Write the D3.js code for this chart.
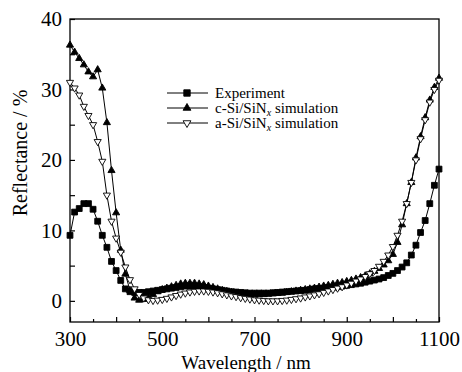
<!DOCTYPE html>
<html>
<head>
<meta charset="utf-8">
<script src="https://cdn.jsdelivr.net/npm/d3@7"></script>
<style>
  body { margin: 0; background: #fff; }
  text { font-family: "Liberation Serif", "Times New Roman", serif; fill: #000; }
</style>
</head>
<body>
<svg id="chart"></svg>
<script>
// wavelength (nm)
const wavelengths = [300,310,320,330,340,350,360,370,380,390,400,410,420,430,440,450,460,470,480,490,
  500,510,520,530,540,550,560,570,580,590,600,610,620,630,640,650,660,670,680,690,
  700,710,720,730,740,750,760,770,780,790,800,810,820,830,840,850,860,870,880,890,
  900,910,920,930,940,950,960,970,980,990,1000,1010,1020,1030,1040,1050,1060,1070,1080,1090,1100];

// reflectance (%)
const experiment = [9.3,12.6,13.1,13.8,13.8,13.0,11.3,9.3,7.6,5.6,4.3,2.9,1.7,1.3,1.2,1.2,1.2,1.3,1.4,1.5,
  1.6,1.7,1.8,1.9,2.0,2.1,2.1,2.1,2.0,1.9,1.8,1.7,1.6,1.5,1.4,1.3,1.25,1.2,1.15,1.1,
  1.1,1.1,1.1,1.1,1.15,1.2,1.25,1.3,1.35,1.4,1.45,1.5,1.6,1.7,1.75,1.8,1.9,1.95,2.0,2.1,
  2.2,2.3,2.4,2.5,2.65,2.8,2.95,3.1,3.3,3.6,3.9,4.3,4.8,5.4,6.5,7.9,9.7,11.4,13.8,16.4,18.7];

const cSiSim = [36.3,35.3,34.4,33.5,32.5,31.8,32.8,30.2,25.3,18.5,12.5,7.2,3.8,1.5,0.4,0.1,0.2,0.5,0.9,1.3,
  1.6,1.8,2.0,2.2,2.4,2.5,2.5,2.5,2.4,2.3,2.1,1.9,1.7,1.5,1.35,1.2,1.1,1.0,0.95,0.9,
  0.9,0.9,0.9,0.95,1.0,1.05,1.1,1.2,1.3,1.4,1.5,1.6,1.7,1.8,1.95,2.1,2.2,2.35,2.5,2.6,
  2.75,2.9,3.1,3.3,3.55,3.85,4.2,4.6,5.1,5.7,6.6,8.3,10.8,13.8,16.8,20.3,23.3,26.0,28.5,30.3,31.6];

const aSiSim = [31.0,30.2,29.2,27.6,26.3,25.0,22.6,19.8,15.0,11.3,8.9,6.9,4.8,3.0,1.7,0.9,0.4,0.15,0.05,0.1,
  0.2,0.35,0.55,0.75,0.95,1.1,1.25,1.35,1.4,1.4,1.35,1.25,1.15,1.0,0.85,0.7,0.6,0.45,0.35,0.25,
  0.15,0.1,0.05,0.0,0.0,0.0,0.05,0.1,0.2,0.3,0.4,0.55,0.7,0.85,1.0,1.2,1.4,1.6,1.8,2.0,
  2.25,2.5,2.8,3.1,3.45,3.85,4.3,4.9,5.6,6.5,7.7,9.3,11.3,13.8,16.8,20.0,23.0,25.7,28.2,30.0,31.3];

const xTickLabels = [300, 500, 700, 900, 1100];
const yTickLabels = [0, 10, 20, 30, 40];

const config = {
  width: 462, height: 372,
  margin: { top: 19, right: 23, bottom: 50, left: 70 }
};

const svg = d3.select('#chart')
  .attr('width', config.width)
  .attr('height', config.height);

const innerW = config.width - config.margin.left - config.margin.right;
const innerH = config.height - config.margin.top - config.margin.bottom;

const chart = svg.append('g')
  .attr('transform', `translate(${config.margin.left},${config.margin.top})`);

const xScale = d3.scaleLinear().domain([300, 1100]).range([0, innerW]);
const yScale = d3.scaleLinear().domain([-3, 40]).range([innerH, 0]);

// axes: ticks point inward
const xMajor = d3.axisBottom(xScale)
  .tickValues(d3.range(300, 1101, 100))
  .tickSize(-5).tickPadding(9)
  .tickFormat(d => xTickLabels.includes(d) ? d : '');
const xMinor = d3.axisBottom(xScale)
  .tickValues(d3.range(350, 1100, 100))
  .tickSize(-3).tickFormat('');
const yMajor = d3.axisLeft(yScale)
  .tickValues(yTickLabels)
  .tickSize(-5).tickPadding(8);
const yMinor = d3.axisLeft(yScale)
  .tickValues([5, 15, 25, 35])
  .tickSize(-5).tickFormat('');

function styleAxis(g) {
  g.select('.domain').remove();
  g.selectAll('line').attr('stroke', '#000').attr('stroke-width', 1.2);
  g.selectAll('text').style('font-size', '21px').style('font-family', '"Liberation Serif", serif');
}

chart.append('g').attr('transform', `translate(0,${innerH})`).call(xMajor).call(styleAxis);
chart.append('g').attr('transform', `translate(0,${innerH})`).call(xMinor).call(styleAxis);
chart.append('g').call(yMajor).call(styleAxis);
chart.append('g').call(yMinor).call(styleAxis);

// frame
chart.append('rect')
  .attr('width', innerW).attr('height', innerH)
  .attr('fill', 'none').attr('stroke', '#000').attr('stroke-width', 1.3);

const series = [
  { name: 'Experiment', values: experiment, symbol: d3.symbolSquare, size: 34, fill: '#000', rot: 0 },
  { name: 'c-Si', values: cSiSim, symbol: d3.symbolTriangle, size: 22, fill: '#000', rot: 0 },
  { name: 'a-Si', values: aSiSim, symbol: d3.symbolTriangle, size: 22, fill: '#fff', rot: 180 }
];

const line = d3.line()
  .x(d => xScale(d[0]))
  .y(d => yScale(d[1]));

series.forEach(s => {
  const pts = wavelengths.map((w, i) => [w, s.values[i]]);
  chart.append('path')
    .datum(pts)
    .attr('fill', 'none')
    .attr('stroke', '#000')
    .attr('stroke-width', 1)
    .attr('d', line);
  chart.selectAll(null).data(pts).enter()
    .append('path')
      .attr('d', d3.symbol(s.symbol, s.size))
      .attr('transform', d => `translate(${xScale(d[0])},${yScale(d[1])}) rotate(${s.rot})`)
      .attr('fill', s.fill)
      .attr('stroke', '#000')
      .attr('stroke-width', 0.9);
});

// legend
const legend = svg.append('g').attr('transform', 'translate(167,93)');
series.forEach((s, i) => {
  const row = legend.append('g').attr('transform', `translate(0,${i * 15})`);
  row.append('line').attr('x1', 0).attr('x2', 41).attr('stroke', '#000').attr('stroke-width', 1);
  row.append('path')
    .attr('d', d3.symbol(s.symbol, s.size * 1.2))
    .attr('transform', `translate(20,0) rotate(${s.rot})`)
    .attr('fill', s.fill).attr('stroke', '#000').attr('stroke-width', 0.9);
  const t = row.append('text').attr('x', 48).attr('y', 5).style('font-size', '15px');
  if (i === 0) {
    t.text('Experiment');
  } else {
    t.append('tspan').text(s.name + '/SiN');
    t.append('tspan').attr('font-style', 'italic').attr('dy', 2.5).style('font-size', '10px').text('x');
    t.append('tspan').attr('dy', -2.5).text(' simulation');
  }
});

// axis titles
svg.append('text')
  .attr('transform', 'translate(27,153) rotate(-90)')
  .attr('text-anchor', 'middle')
  .style('font-size', '20px')
  .text('Reflectance / %');

svg.append('text')
  .attr('x', 246).attr('y', 369)
  .attr('text-anchor', 'middle')
  .style('font-size', '19px')
  .text('Wavelength / nm');
</script>
</body>
</html>
